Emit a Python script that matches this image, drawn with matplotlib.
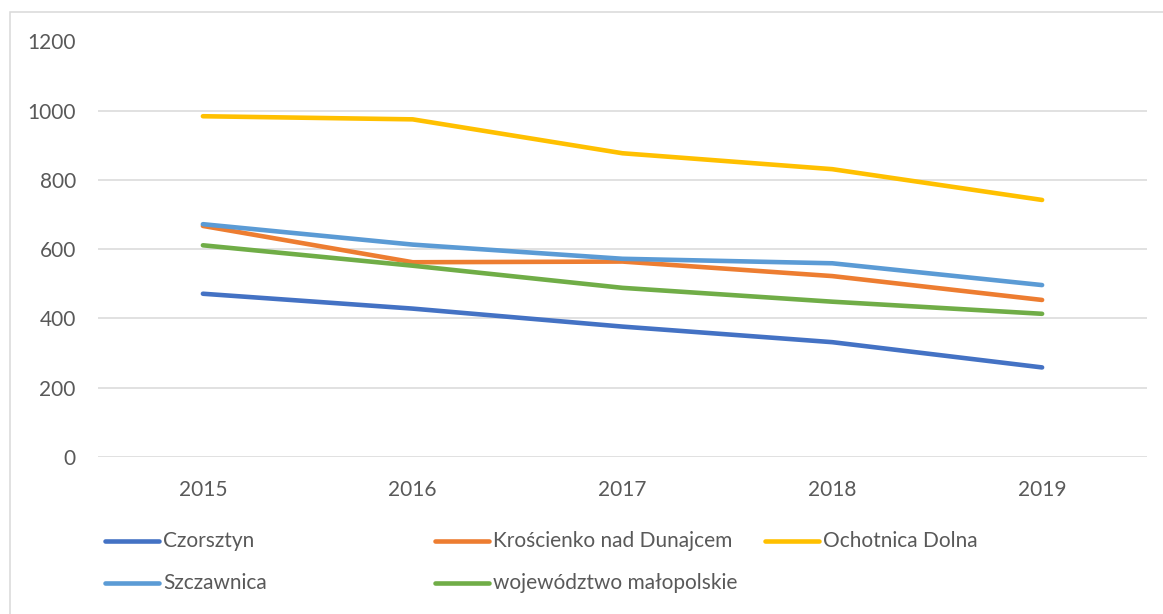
import matplotlib
matplotlib.use("Agg")
import matplotlib.pyplot as plt
from matplotlib.lines import Line2D
from matplotlib.patches import Rectangle

years = ['2015', '2016', '2017', '2018', '2019']
czorsztyn = [471, 428, 376, 331, 258]
kroscienko = [667, 562, 564, 522, 453]
ochotnica = [984, 975, 877, 831, 742]
szczawnica = [672, 613, 572, 559, 496]
malopolskie = [611, 552, 488, 448, 413]

names = ['Czorsztyn', 'Krościenko nad Dunajcem', 'Ochotnica Dolna',
         'Szczawnica', 'województwo małopolskie']
series = [czorsztyn, kroscienko, ochotnica, szczawnica, malopolskie]
colors = ['#4472C4', '#ED7D31', '#FFC000', '#5B9BD5', '#70AD47']

plt.rcParams['font.family'] = ['Lato', 'DejaVu Sans']
txt = '#595959'
W, H = 1163, 614

fig = plt.figure(figsize=(W / 100, H / 100), dpi=100)
ax = fig.add_axes([98 / W, 1 - 456.7 / H, (1147 - 98) / W, (456.7 - 41.5) / H])

x = list(range(len(years)))
for vals, c in zip(series, colors):
    ax.plot(x, vals, color=c, lw=3.3, solid_capstyle='round',
            solid_joinstyle='round')

ax.set_xlim(-0.5, len(years) - 0.5)
ax.set_ylim(0, 1200)
ax.set_yticks(range(0, 1201, 200))
ax.set_xticks(x)
ax.set_xticklabels(years)
ax.yaxis.grid(True, color='#D9D9D9', lw=1.1)
ax.set_axisbelow(True)
for s in ax.spines.values():
    s.set_visible(False)
ax.tick_params(length=0, labelsize=15, colors=txt)
ax.tick_params(axis='y', pad=16)
ax.tick_params(axis='x', pad=17)

# legend laid out like the original (three evenly spaced columns)
col_x = [105, 435, 765]
row_y = [541, 583]
for i, (name, c) in enumerate(zip(names, colors)):
    cx = col_x[i % 3]
    ry = row_y[i // 3]
    fig.add_artist(Line2D([cx / W, (cx + 54) / W], [1 - ry / H, 1 - ry / H],
                          color=c, lw=3.3, solid_capstyle='round',
                          transform=fig.transFigure))
    fig.text((cx + 58) / W, 1 - ry / H, name, color=txt, fontsize=15,
             va='center', ha='left')

# chart frame
fig.add_artist(Rectangle((10 / W, -0.1), 1.2, 1 - 12 / H + 0.1,
                         transform=fig.transFigure, fill=False,
                         edgecolor='#D9D9D9', lw=1.1))

fig.savefig('out.png', dpi=100)
